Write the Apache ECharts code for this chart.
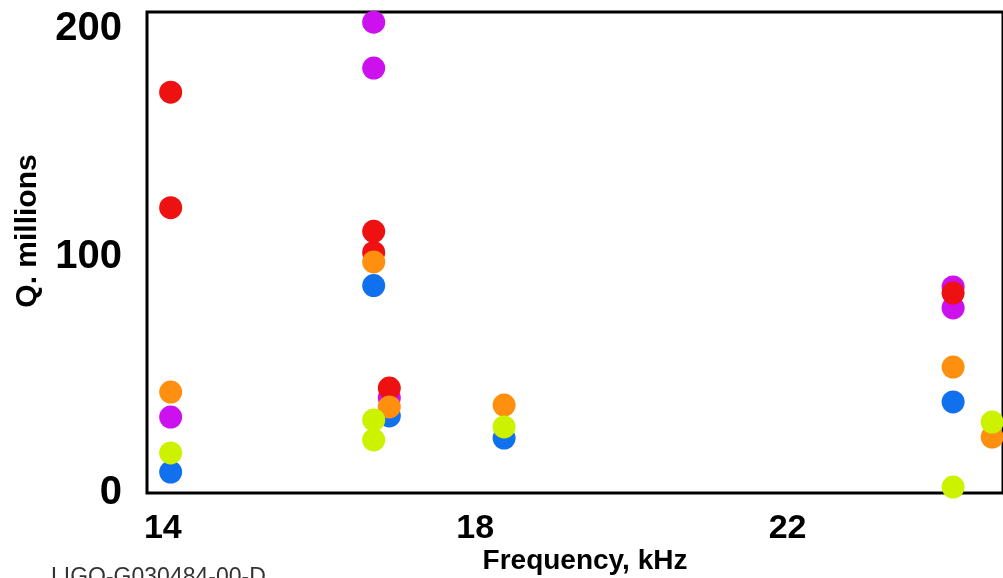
<!DOCTYPE html>
<html>
<head>
<meta charset="utf-8">
<script src="https://cdn.jsdelivr.net/npm/echarts@6/dist/echarts.min.js"></script>
<style>
html,body{margin:0;padding:0;background:#fff;}
#chart{width:1003px;height:578px;}
</style>
</head>
<body>
<div id="chart"></div>
<script>
// Data (frequency kHz, Q millions)
const xTickLabels = [14, 18, 22];
const yTickLabels = [0, 100, 200];
const magentaPts = [[14.1, 32.2], [16.7, 199.7], [16.7, 180.2], [16.9, 40.3], [24.12, 87.4], [24.12, 78.5]];
const bluePts    = [[14.1, 8.9], [16.7, 88], [16.9, 32.7], [18.37, 23.3], [24.12, 38.6]];
const redPts     = [[14.1, 170], [14.1, 121], [16.7, 111], [16.7, 102], [16.9, 44.5], [24.12, 84.8]];
const orangePts  = [[14.1, 42.8], [16.7, 98], [16.9, 36.5], [18.37, 37.3], [24.12, 53.4], [24.62, 23.7]];
const greenPts   = [[14.1, 17], [16.7, 31], [16.7, 22.5], [18.37, 28], [24.12, 2.5], [24.62, 30.1]];

const seriesDefs = [
  {name: 'magenta', data: magentaPts, color: '#cc11ee'},
  {name: 'blue', data: bluePts, color: '#1170ee'},
  {name: 'red', data: redPts, color: '#ee1111'},
  {name: 'orange', data: orangePts, color: '#ff8f0f'},
  {name: 'green', data: greenPts, color: '#ccf200'}
];

const chart = echarts.init(document.getElementById('chart'), null, {renderer: 'canvas'});
const font = 'Liberation Sans, Arial, sans-serif';
chart.setOption({
  animation: false,
  backgroundColor: '#ffffff',
  grid: {left: 147, top: 12, right: -10, bottom: 85, show: true, borderColor: '#000', borderWidth: 3, backgroundColor: 'transparent'},
  xAxis: {
    type: 'value', min: 13.797, max: 24.759,
    axisLine: {show: false}, axisTick: {show: false}, splitLine: {show: false},
    axisLabel: {customValues: xTickLabels, fontSize: 34, fontWeight: 'bold', color: '#000', fontFamily: font, margin: 19}
  },
  yAxis: {
    type: 'value', min: 0, max: 204,
    axisLine: {show: false}, axisTick: {show: false}, splitLine: {show: false},
    axisLabel: {
      customValues: yTickLabels, fontSize: 40, fontWeight: 'bold', color: '#000', fontFamily: font, margin: 25,
      formatter: v => v === 200 ? '{t|200}' : String(v),
      rich: {t: {fontSize: 40, fontWeight: 'bold', color: '#000', fontFamily: font, padding: [16, 0, 0, 0]}}
    }
  },
  graphic: [
    {type: 'text', x: 585, y: 561, style: {text: 'Frequency, kHz', font: 'bold 28px ' + font, fill: '#000', textAlign: 'center', textVerticalAlign: 'middle'}},
    {type: 'text', x: 28, y: 231, rotation: Math.PI / 2, style: {text: 'Q. millions', font: 'bold 30px ' + font, fill: '#000', textAlign: 'center', textVerticalAlign: 'middle'}},
    {type: 'text', x: 51, y: 566, style: {text: 'LIGO-G030484-00-D', font: '23px ' + font, fill: '#333', textVerticalAlign: 'top'}}
  ],
  series: seriesDefs.map(s => ({
    name: s.name, type: 'scatter', data: s.data, symbolSize: 23,
    itemStyle: {color: s.color, opacity: 1}
  }))
});
</script>
</body>
</html>
